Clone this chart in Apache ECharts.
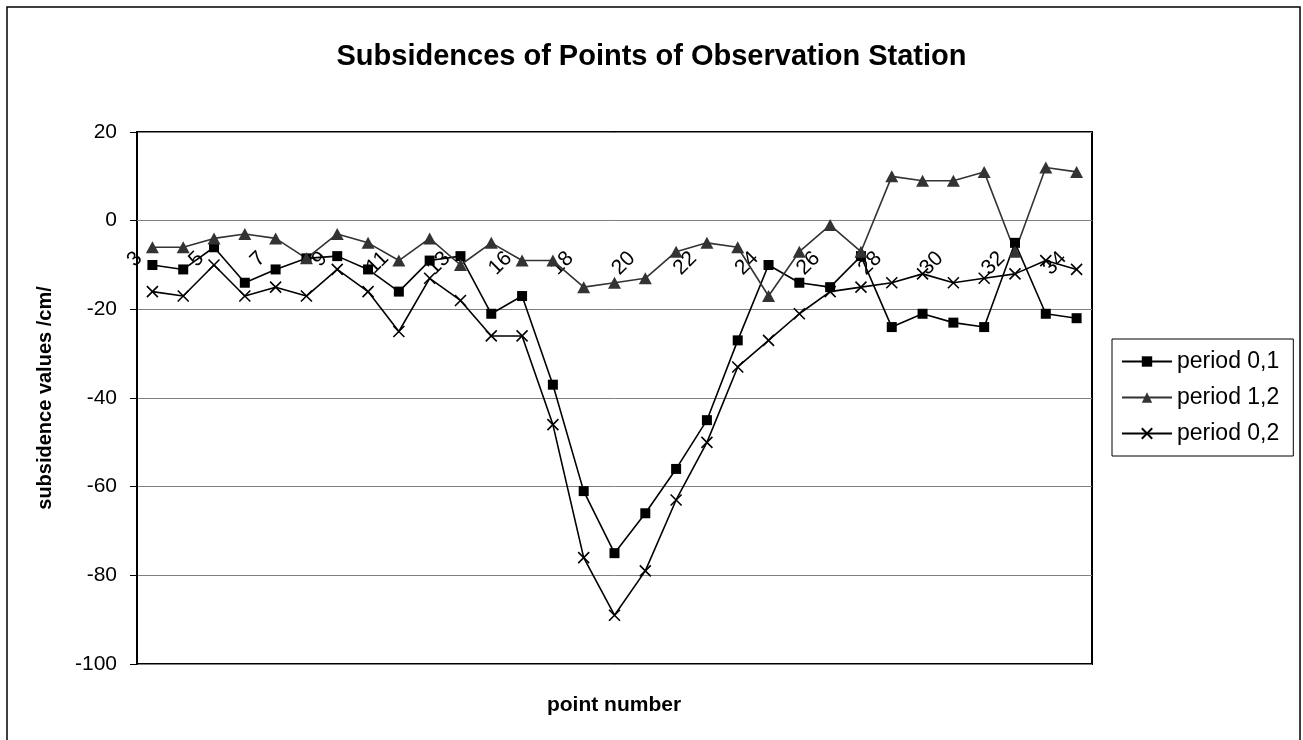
<!DOCTYPE html>
<html>
<head>
<meta charset="utf-8">
<script src="https://cdn.jsdelivr.net/npm/echarts@6/dist/echarts.min.js"></script>
<style>
html,body{margin:0;padding:0;background:#fff;}
#chart{width:1303px;height:740px;}
</style>
</head>
<body>
<div id="chart"></div>
<script>
var categories = ['3','4','5','6','7','8','9','10','11','12','13','15','16','17','18','19','20','21','22','23','24','25','26','27','28','29','30','31','32','33','34'];
var period01 = [-10,-11,-6,-14,-11,-8.5,-8,-11,-16,-9,-8,-21,-17,-37,-61,-75,-66,-56,-45,-27,-10,-14,-15,-8,-24,-21,-23,-24,-5,-21,-22];
var period12 = [-6,-6,-4,-3,-4,-8.5,-3,-5,-9,-4,-10,-5,-9,-9,-15,-14,-13,-7,-5,-6,-17,-7,-1,-7,10,9,9,11,-7,12,11];
var period02 = [-16,-17,-10,-17,-15,-17,-11,-16,-25,-13,-18,-26,-26,-46,-76,-89,-79,-63,-50,-33,-27,-21,-16,-15,-14,-12,-14,-13,-12,-9,-11];
var seriesNames = ['period 0,1','period 1,2','period 0,2'];
var yTicks = {min:-100, max:20, interval:20};

var FONT = '"Liberation Sans", Arial, sans-serif';
var chart = echarts.init(document.getElementById('chart'), null, {renderer:'canvas'});
var crossPath = 'path://M0,0L10,10M10,0L0,10';
chart.setOption({
  animation:false,
  backgroundColor:'#fff',
  title:{
    text:'Subsidences of Points of Observation Station',
    left:'center', top:37,
    textStyle:{fontFamily:FONT, fontSize:29, fontWeight:'bold', color:'#000'}
  },
  grid:{left:137, top:132, right:211, bottom:76, show:true, borderColor:'#000', borderWidth:2, backgroundColor:'transparent'},
  legend:{
    orient:'vertical', left:1112, top:339,
    padding:[11,14,11,9], itemGap:13, itemWidth:50, itemHeight:13,
    borderColor:'#000', borderWidth:1, borderRadius:0,
    textStyle:{fontFamily:FONT, fontSize:23, color:'#000'},
    data:seriesNames
  },
  xAxis:{
    type:'category', data:categories, boundaryGap:true, offset:0,
    axisLine:{onZero:false, lineStyle:{color:'#808080', width:1}},
    axisTick:{interval:0, length:7, lineStyle:{color:'#000'}},
    axisLabel:{interval:1, rotate:45, fontFamily:FONT, fontSize:21, color:'#000', margin:21, padding:[0,19,0,0]},
    splitLine:{show:false}
  },
  yAxis:{
    type:'value', min:yTicks.min, max:yTicks.max, interval:yTicks.interval,
    name:'subsidence values /cm/', nameLocation:'middle', nameGap:82,
    nameTextStyle:{fontFamily:FONT, fontSize:20, fontWeight:'bold', color:'#000'},
    axisLine:{show:true, lineStyle:{color:'#000', width:2}},
    axisTick:{show:true, length:7, lineStyle:{color:'#000'}},
    axisLabel:{fontFamily:FONT, fontSize:21, color:'#000', margin:20},
    splitLine:{lineStyle:{color:'#808080', width:1}}
  },
  series:[
    {name:seriesNames[0], type:'line', data:period01, symbol:'rect', symbolSize:10,
     lineStyle:{color:'#000', width:1.6}, itemStyle:{color:'#000'}, emphasis:{disabled:true}},
    {name:seriesNames[1], type:'line', data:period12, symbol:'triangle', symbolSize:[13,12],
     lineStyle:{color:'#333', width:1.6}, itemStyle:{color:'#333'}, emphasis:{disabled:true}},
    {name:seriesNames[2], type:'line', data:period02, symbol:crossPath, symbolSize:11,
     lineStyle:{color:'#000', width:1.6}, itemStyle:{color:'none', borderColor:'#000', borderWidth:1.6}, emphasis:{disabled:true}}
  ],
  graphic:[
    {type:'rect', shape:{x:7, y:7, width:1293, height:745}, style:{fill:'none', stroke:'#000', lineWidth:1.5}, silent:true},
    {type:'text', x:614, y:705, style:{text:'point number', font:'bold 21px "Liberation Sans", Arial, sans-serif', fill:'#000', textAlign:'center', textVerticalAlign:'middle'}, silent:true}
  ]
});
// place the category axis on the zero line using the library's own scale
var yZero = chart.convertToPixel({yAxisIndex:0}, 0);
var yBottom = chart.convertToPixel({yAxisIndex:0}, yTicks.min);
chart.setOption({xAxis:{offset: yZero - yBottom}});
</script>
</body>
</html>
